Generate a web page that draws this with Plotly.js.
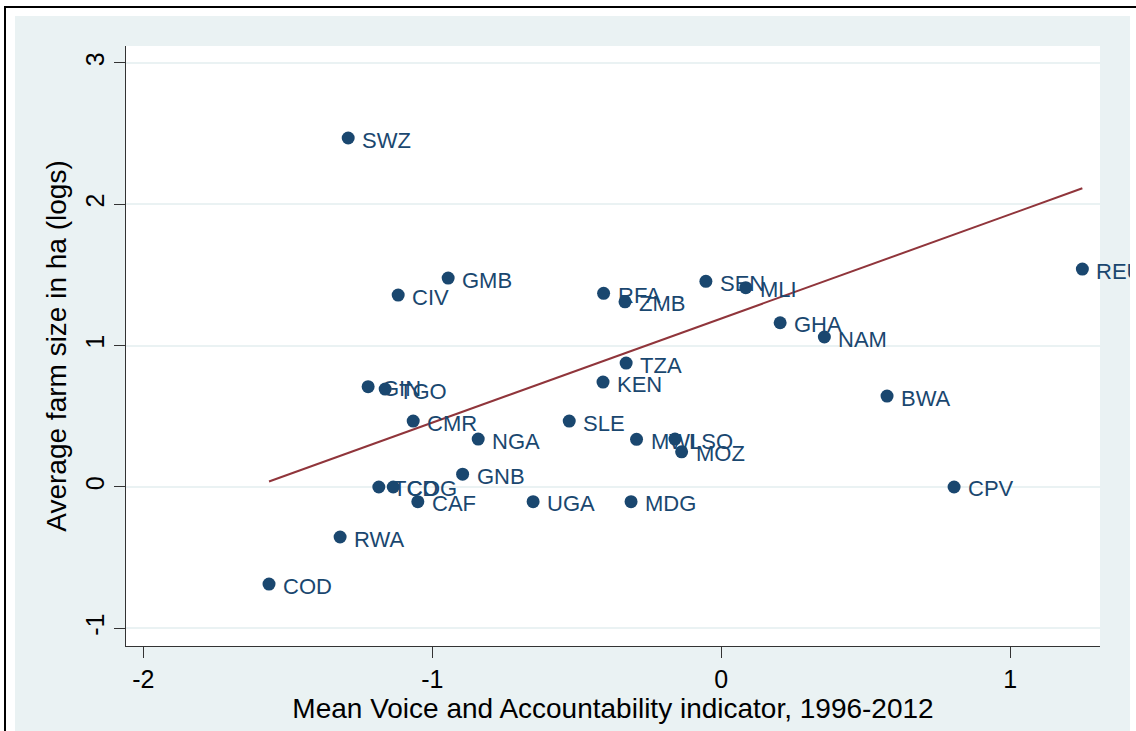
<!DOCTYPE html>
<html>
<head>
<meta charset="utf-8">
<script src="https://cdn.plot.ly/plotly-3.0.1.min.js"></script>
<style>
  html, body { margin: 0; padding: 0; background: #ffffff; width: 1136px; height: 731px; overflow: hidden; }
  #frame { position: absolute; left: 4px; top: 6px; width: 1200px; height: 800px; border-left: 2px solid #000; border-top: 2px solid #000; }
  #chart { position: absolute; left: 15px; top: 16px; width: 1115px; height: 715px; }
</style>
</head>
<body>
<div id="frame"></div>
<div id="chart"></div>
<script>
// Country codes
const countries = ["SWZ","GMB","CIV","RFA","ZMB","SEN","MLI","GHA","NAM","REU",
                   "TZA","KEN","GIN","TGO","CMR","SLE","NGA","MWI","LSO","MOZ",
                   "BWA","GNB","TCD","COG","CAF","UGA","MDG","CPV","RWA","COD"];
// Mean Voice and Accountability indicator, 1996-2012
const voice = [-1.291,-0.945,-1.118,-0.407,-0.333,-0.053,0.085,0.204,0.357,1.250,
               -0.329,-0.409,-1.222,-1.163,-1.066,-0.526,-0.841,-0.293,-0.160,-0.137,
               0.574,-0.895,-1.185,-1.135,-1.050,-0.651,-0.312,0.806,-1.319,-1.565];
// Average farm size in ha (logs)
const farmSize = [2.469,1.478,1.358,1.370,1.310,1.455,1.410,1.162,1.061,1.542,
                  0.877,0.742,0.710,0.693,0.466,0.466,0.339,0.337,0.339,0.249,
                  0.643,0.091,0.000,0.000,-0.104,-0.104,-0.104,0.000,-0.354,-0.687];
// Fitted line: intercept and slope
const fitIntercept = 1.192;
const fitSlope = 0.737;

const xTicks = [-2, -1, 0, 1];
const yTicks = [-1, 0, 1, 2, 3];

const xMin = Math.min(...voice), xMax = Math.max(...voice);
const fitX = [xMin, xMax];
const fitY = fitX.map(v => fitIntercept + fitSlope * v);

const navy = "#1a476f";
const maroon = "#90353b";
const bg = "#eaf2f3";
const fontFam = "Liberation Sans, Arial, Helvetica, sans-serif";

const traces = [
  {
    type: "scatter", mode: "lines",
    x: fitX, y: fitY,
    line: { color: maroon, width: 2 },
    hoverinfo: "skip", showlegend: false
  },
  {
    type: "scatter", mode: "markers",
    x: voice, y: farmSize,
    marker: { color: navy, size: 13, line: { width: 0 } },
    cliponaxis: false,
    hoverinfo: "skip", showlegend: false
  }
];

const labels = countries.map((c, i) => ({
  x: voice[i], y: farmSize[i], xref: "x", yref: "y",
  text: c, showarrow: false,
  xanchor: "left", yanchor: "middle",
  xshift: 12, yshift: -2,
  font: { family: fontFam, size: 22, color: navy }
}));

const layout = {
  width: 1115, height: 715,
  margin: { l: 111, r: 30, t: 30, b: 85 },
  paper_bgcolor: bg,
  plot_bgcolor: "#ffffff",
  showlegend: false,
  hovermode: false,
  font: { family: fontFam, color: "#000000" },
  annotations: labels,
  xaxis: {
    range: [-2.06, 1.311],
    tickvals: xTicks, ticktext: xTicks.map(String),
    ticks: "outside", ticklen: 11, tickwidth: 1, tickcolor: "#333333",
    tickfont: { size: 25, color: "#000000" },
    showgrid: false, zeroline: false,
    showline: true, linecolor: "#333333", linewidth: 1,
    title: { text: "Mean Voice and Accountability indicator, 1996-2012", font: { size: 28, color: "#000000" }, standoff: 2 }
  },
  yaxis: {
    range: [-1.125, 3.12],
    tickvals: yTicks, ticktext: yTicks.map(String),
    tickangle: -90,
    ticks: "outside", ticklen: 11, tickwidth: 1, tickcolor: "#333333",
    tickfont: { size: 25, color: "#000000" },
    showgrid: true, gridcolor: bg, gridwidth: 2,
    zeroline: false,
    showline: true, linecolor: "#333333", linewidth: 1,
    title: { text: "Average farm size in ha (logs)", font: { size: 28, color: "#000000" }, standoff: 6 }
  }
};

Plotly.newPlot("chart", traces, layout, { displayModeBar: false, staticPlot: true });
</script>
</body>
</html>
